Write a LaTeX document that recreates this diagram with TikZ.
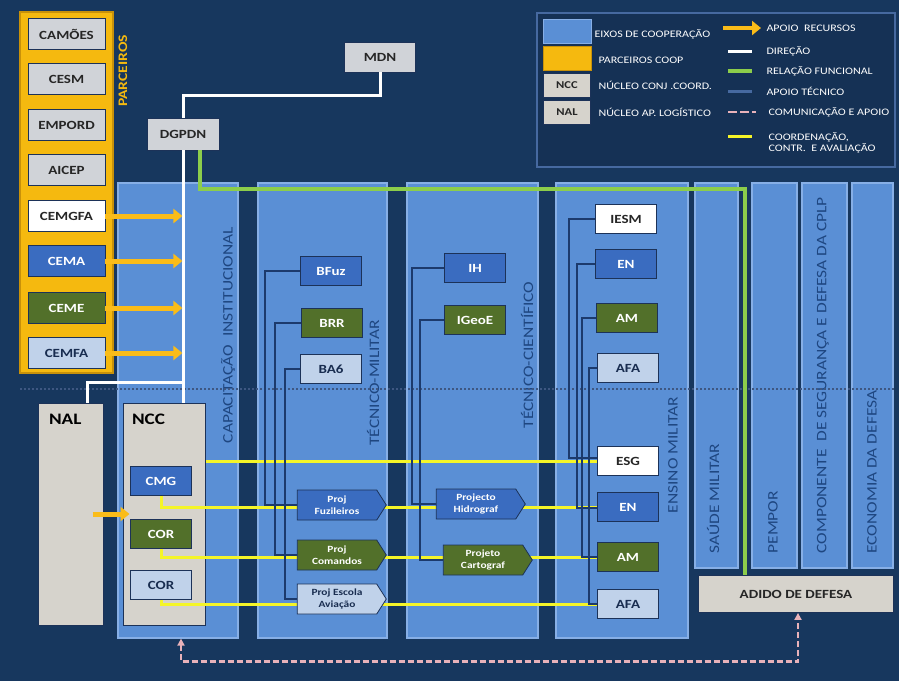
\documentclass[tikz,border=0pt]{standalone}
\usepackage{fontspec}
\setmainfont{Carlito}[FakeStretch=1.2]
\definecolor{ptnavy}{RGB}{23,55,94}
\definecolor{ptcol}{RGB}{90,143,213}
\definecolor{ptrim}{RGB}{135,175,230}
\definecolor{ptlabel}{RGB}{30,70,128}
\definecolor{ptgold}{RGB}{245,185,15}
\definecolor{ptgoldedge}{RGB}{200,145,10}
\definecolor{ptarrow}{RGB}{250,188,25}
\definecolor{ptgray}{RGB}{208,211,216}
\definecolor{ptstone}{RGB}{214,211,204}
\definecolor{ptblue}{RGB}{58,108,192}
\definecolor{ptgreen}{RGB}{82,112,42}
\definecolor{ptpale}{RGB}{192,210,234}
\definecolor{ptdark}{RGB}{25,45,80}
\definecolor{ptedge}{RGB}{28,50,88}
\definecolor{ptline}{RGB}{28,58,108}
\definecolor{ptyellow}{RGB}{245,245,40}
\definecolor{ptlime}{RGB}{140,205,75}
\definecolor{ptpink}{RGB}{232,178,186}
\definecolor{ptlegline}{RGB}{70,105,160}
\usetikzlibrary{arrows.meta,positioning,shapes.symbols,calc}

\begin{document}
\begin{tikzpicture}[x=1pt, y=-1pt,
  every node/.style={font=\fontsize{10}{12}\selectfont},
  axisbox/.style={draw=ptrim, line width=1.2pt, fill=ptcol},
  axislabel/.style={rotate=90, text=ptlabel, font=\fontsize{14.5}{15}\selectfont},
  unit/.style={draw=ptedge, line width=0.8pt, minimum width=61pt, minimum height=29pt,
    inner sep=1pt, font=\bfseries\fontsize{12.5}{13}\selectfont},
  blueunit/.style={unit, fill=ptblue, text=white},
  greenunit/.style={unit, fill=ptgreen, text=white},
  paleunit/.style={unit, fill=ptpale, text=ptdark},
  whiteunit/.style={unit, fill=white, text=black!85},
  grayunit/.style={unit, fill=ptgray, text=black!85},
  partner/.style={minimum width=77pt, minimum height=31pt},
  project/.style={signal, signal to=east, signal pointer angle=115, draw=ptedge,
    line width=0.8pt, minimum width=89pt, minimum height=30pt, inner sep=0.5pt,
    align=center, text=white, font=\bfseries\fontsize{9.5}{11.5}\selectfont},
  stone/.style={draw=ptedge, line width=1pt, fill=ptstone, minimum height=222pt},
  bigtag/.style={anchor=north west, font=\bfseries\fontsize{16}{16}\selectfont},
  resarrow/.style={ptarrow, line width=5pt, -{Triangle[length=9pt,width=14pt]}},
  dirline/.style={white, line width=3pt},
  funcline/.style={ptlime, line width=4pt},
  techline/.style={ptline, line width=1.5pt},
  coordline/.style={ptyellow, line width=3pt},
  commline/.style={ptpink, line width=2.5pt, dash pattern=on 6pt off 3pt},
  legtext/.style={anchor=west, text=white, font=\fontsize{10}{11}\selectfont}]

\useasboundingbox (0,0) rectangle (899,681);
\fill[ptnavy] (0,0) rectangle (899,681);

% Legend
\draw[ptlegline, line width=1.5pt, fill=ptnavy!90!black] (537,13) rectangle (895,167);
\node[draw=ptrim, fill=ptcol, minimum width=48pt, minimum height=24pt] (lgaxis) at (567,31) {};
\node[legtext] (lgaxist) at (591,34) {EIXOS DE COOPERAÇÃO};
\node[draw=ptgoldedge, fill=ptgold, minimum width=48pt, minimum height=24pt] (lgpart) at (567,58) {};
\node[legtext] (lgpartt) at (595,60) {PARCEIROS COOP};
\node[grayunit, fill=ptstone, minimum width=47pt, minimum height=24pt, font=\bfseries\fontsize{10.5}{11}\selectfont] (lgncc) at (567,85) {NCC};
\node[legtext] (lgncct) at (595,85) {NÚCLEO CONJ .COORD.};
\node[grayunit, fill=ptstone, minimum width=47pt, minimum height=24pt, font=\bfseries\fontsize{10.5}{11}\selectfont] (lgnal) at (567,112) {NAL};
\node[legtext] (lgnalt) at (595,112) {NÚCLEO AP. LOGÍSTICO};

\node[legtext] (lgres) at (763,28) {APOIO\ \ RECURSOS};
\node[legtext] (lgdir) at (763,51) {DIREÇÃO};
\node[legtext] (lgfun) at (763,71) {RELAÇÃO FUNCIONAL};
\node[legtext] (lgtec) at (763,91) {APOIO TÉCNICO};
\node[legtext] (lgcom) at (765,112) {COMUNICAÇÃO E APOIO};
\node[legtext, anchor=north west, align=left] (lgcoo) at (765,129) {COORDENAÇÃO,\\CONTR.\ \ E AVALIAÇÃO};
\draw[resarrow, line width=4pt] ([xshift=-40pt]lgres.west) -- ([xshift=-2pt]lgres.west);
\draw[dirline] ([xshift=-35pt]lgdir.west) -- ([xshift=-11pt]lgdir.west);
\draw[funcline] ([xshift=-35pt]lgfun.west) -- ([xshift=-11pt]lgfun.west);
\draw[ptlegline, line width=3pt] ([xshift=-35pt]lgtec.west) -- ([xshift=-11pt]lgtec.west);
\draw[commline, dash pattern=on 9pt off 3pt] ([xshift=-37pt]lgcom.west) -- ([xshift=-9pt]lgcom.west);
\draw[coordline] ([xshift=-37pt]lgcoo.west |- 0,136) -- ([xshift=-13pt]lgcoo.west |- 0,136);

% Partners
\draw[ptgoldedge, line width=1.5pt, fill=ptgold] (20,12) rectangle (113,373);
\node[rotate=90, text=ptgold, font=\bfseries\fontsize{13}{13}\selectfont] (parclabel) at (123,71) {PARCEIROS};
\node[grayunit, partner] (camoes) at (66.5,34) {CAMÕES};
\node[grayunit, partner] (cesm) at (66.5,79) {CESM};
\node[grayunit, partner] (empord) at (66.5,125) {EMPORD};
\node[grayunit, partner] (aicep) at (66.5,170) {AICEP};
\node[whiteunit, partner] (cemgfa) at (66.5,216) {CEMGFA};
\node[blueunit, partner] (cema) at (66.5,261) {CEMA};
\node[greenunit, partner] (ceme) at (66.5,308) {CEME};
\node[paleunit, partner] (cemfa) at (66.5,353) {CEMFA};

% Axes of cooperation
\node[axisbox, minimum width=120pt, minimum height=455pt] (capinst) at (178,410.5) {};
\node[axisbox, minimum width=129pt, minimum height=455pt] (tecmil) at (322.5,410.5) {};
\node[axisbox, minimum width=131pt, minimum height=455pt] (teccie) at (472.5,410.5) {};
\node[axisbox, minimum width=132pt, minimum height=455pt] (ensmil) at (622,410.5) {};
\node[axisbox, minimum width=43pt, minimum height=385pt] (saude) at (716.5,375.5) {};
\node[axisbox, minimum width=45pt, minimum height=385pt] (pempor) at (774.5,375.5) {};
\node[axisbox, minimum width=45pt, minimum height=385pt] (cplp) at (824.5,375.5) {};
\node[axisbox, minimum width=41pt, minimum height=385pt] (ecodef) at (872.5,375.5) {};
\node[axislabel] at (228,335) {CAPACITAÇÃO\ \ INSTITUCIONAL};
\node[axislabel] at (373,383) {TÉCNICO-MILITAR};
\node[axislabel] at (527,355) {TÉCNICO-CIENTÍFICO};
\node[axislabel] at (673,455) {ENSINO MILITAR};
\node[axislabel, anchor=west] at (713,557) {SAÚDE MILITAR};
\node[axislabel, anchor=west] at (773,557) {PEMPOR};
\node[axislabel, anchor=west] at (823,557) {COMPONENTE\ \ DE SEGURANÇA E DEFESA DA CPLP};
\node[axislabel, anchor=west] at (872,557) {ECONOMIA DA DEFESA};
\draw[ptline!85!white, line width=1.6pt, dash pattern=on 2pt off 2pt] (20,389) -- (895,389);

% Ministry
\node[grayunit, minimum width=71pt, minimum height=30pt] (mdn) at (380,57) {MDN};
\node[grayunit, minimum width=72pt, minimum height=32pt] (dgpdn) at (183,134) {DGPDN};

% Cores
\node[stone, minimum width=65pt] (nal) at (70.5,514) {};
\node[stone, minimum width=82pt] (ncc) at (164,514) {};
\node[bigtag] (naltag) at ([shift={(8,8)}]nal.north west) {NAL};
\node[bigtag] (ncctag) at ([shift={(6,8)}]ncc.north west) {NCC};
\node[blueunit] (cmg) at (161,481) {CMG};
\node[greenunit] (corg) at (161,534) {COR};
\node[paleunit] (corp) at (161,585) {COR};

% Units
\node[blueunit] (bfuz) at (331,271) {BFuz};
\node[greenunit] (brr) at (332,323) {BRR};
\node[paleunit] (ba6) at (331,369) {BA6};
\node[blueunit] (ih) at (475,268) {IH};
\node[greenunit] (igeoe) at (475,320) {IGeoE};
\node[whiteunit] (iesm) at (626,219) {IESM};
\node[blueunit] (ena) at (626,264) {EN};
\node[greenunit] (ama) at (627,318) {AM};
\node[paleunit] (afaa) at (628,368) {AFA};
\node[whiteunit] (esg) at (628,461) {ESG};
\node[blueunit] (enb) at (628,507) {EN};
\node[greenunit] (amb) at (628,557) {AM};
\node[paleunit] (afab) at (628,604) {AFA};
\node[grayunit, fill=ptstone, minimum width=195pt, minimum height=37pt] (adido) at (796,594) {ADIDO DE DEFESA};

% Direction and functional relation
\coordinate (split) at (183,382);
\draw[dirline] (mdn.south) -- ++(0,23) -| (dgpdn.north);
\draw[dirline] (dgpdn.south) -- (split) -- (split |- ncc.north);
\draw[dirline] (split) -| ([xshift=17pt]nal.north);
\coordinate (gturn) at (745,189);
\draw[funcline] ([xshift=17pt]dgpdn.south) |- (gturn) -- (gturn |- adido.north);

% Resources
\draw[resarrow] (cemgfa.east) -- ++(77,0);
\draw[resarrow] (cema.east) -- ++(77,0);
\draw[resarrow] (ceme.east) -- ++(77,0);
\draw[resarrow] (cemfa.east) -- ++(77,0);
\draw[resarrow, shorten <=-11pt, shorten >=-7pt] (nal.east) -- (ncc.west);

% Coordination
\draw[coordline] (ncc.east |- esg.west) -- (esg.west);
\draw[coordline] (cmg.south) |- (enb.west);
\draw[coordline] (corg.south) |- (amb.west);
\draw[coordline] (corp.south) |- (afab.west);

% Projects
\node[project, fill=ptblue] (pfuz) at (337,505) {Proj\\Fuzileiros};
\node[project, fill=ptgreen] (pcom) at (337,555) {Proj\\Comandos};
\node[project, fill=ptpale, text=ptdark] (pesc) at (337,599) {Proj Escola\\Aviação};
\node[project, fill=ptblue] (phid) at (476,504) {Projecto\\Hidrograf};
\node[project, fill=ptgreen] (pcar) at (483,560) {Projeto\\Cartograf};

% Technical support
\draw[techline] (bfuz.west) -- ++(-35,0) |- (pfuz.west);
\draw[techline] (brr.west) -- ++(-26,0) |- (pcom.west);
\draw[techline] (ba6.west) -- ++(-15,0) |- (pesc.west);
\draw[techline] (ih.west) -- ++(-32,0) |- (phid.west);
\draw[techline] (igeoe.west) -- ++(-24,0) |- (pcar.west);
\draw[techline] (iesm.west) -- ++(-26,0) |- ([yshift=3pt]esg.west);
\draw[techline] (ena.west) -- ++(-18,0) |- ([yshift=-1pt]enb.west);
\draw[techline] (ama.west) -- ++(-14,0) |- (amb.west);
\draw[techline] (afaa.west) -- ++(-8,0) |- (afab.west);

% Communication
\draw[commline, {Triangle[length=7pt,width=7pt]}-{Triangle[length=7pt,width=7pt]}] ([xshift=3pt]capinst.south) -- ++(0,23) -| ([xshift=2pt]adido.south);

\end{tikzpicture}
\end{document}
